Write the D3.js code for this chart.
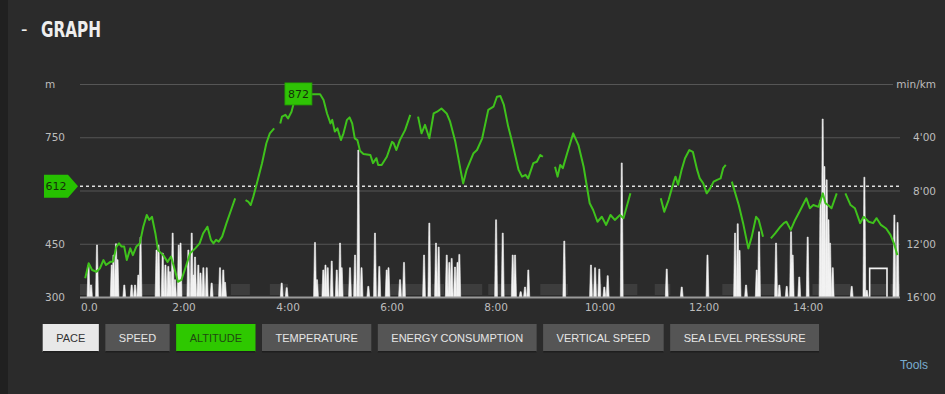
<!DOCTYPE html>
<html><head><meta charset="utf-8">
<script src="https://cdn.jsdelivr.net/npm/d3@7"></script>
<style>
html,body{margin:0;padding:0;background:#2b2b2b;overflow:hidden;}
svg{display:block;}
</style></head><body>
<svg id="c" width="945" height="394"></svg>
<script>
// ---------- DATA ----------
const altMinutes = [6,10,14,19,23,27,30,35,38,42,45,48,51,54,58,61,65,69,73,77,80,83,87,90,96,101,105,110,113,117,122,127,133,138,142,147,151,154,157,160,164,169,175,179,185,
191,194,197,200,204,210,215,219,224,227,
231,233,237,240,244,247,252,260,277,281,285,289,291,294,297,301,304,308,311,314,317,320,323,327,335,338,342,344,348,354,360,362,365,369,375,381,385,
390,394,398,403,408,412,417,423,427,433,439,442,446,454,458,464,471,477,481,485,489,494,498,506,510,514,517,523,527,531,534,540,
548,551,554,557,562,569,575,581,588,592,597,602,607,612,617,623,627,635,650,
670,674,679,685,687,690,694,698,703,707,712,715,719,723,727,731,735,739,742,745,748,
752,760,765,771,775,780,783,788,792,
797,802,808,812,815,820,825,830,835,838,842,846,852,857,860,863,867,873,878,
883,889,894,900,904,910,915,919,924,930,935,939,943];
const altMeters = [353,395,376,371,381,404,390,399,399,442,451,442,442,404,437,418,442,451,498,531,517,526,479,432,418,399,414,371,343,348,385,423,437,451,479,498,461,451,461,456,470,508,550,578,null,
573,569,559,583,620,677,733,761,775,null,
789,808,813,803,822,850,872,871,871,855,817,789,799,766,775,742,761,799,806,789,747,742,712,703,700,677,691,672,672,695,737,733,714,742,770,813,null,
808,761,785,747,817,822,831,817,794,737,658,620,658,705,714,747,827,836,864,866,841,780,742,658,639,644,634,677,681,700,695,null,
667,639,672,663,705,761,728,667,564,545,512,526,503,531,517,531,522,592,null,
578,540,573,625,639,616,658,691,714,709,658,634,620,592,606,625,630,634,663,672,null,
625,559,508,437,470,526,517,470,null,
465,479,498,508,512,489,517,540,564,578,550,559,554,592,564,559,550,592,null,
592,559,550,508,526,512,508,522,503,493,475,451,418];

// pace spikes (minutes into activity, pace in min/km)
const paceMinutes = [9.8,12.7,19.6,36.6,38.6,41.5,43.3,51.1,59.6,63.5,67.3,69.8,88.3,90.6,95.4,98.6,101.9,103.8,106.9,109.6,113.9,116,125,128.9,130.7,132.7,136.5,139,142.3,146.2,151.9,161.5,165.3,167.3,
232.7,238.5,271.1,273.4,280.7,283.2,285.8,290.4,296.2,300,301.9,311.5,317.3,321.1,324.8,332.6,340.3,345.3,353.8,355.9,369.2,373.8,396.9,403,410.7,413.8,423.1,426.1,428.8,432.6,435.5,437.6,
480,487.7,499.2,501.9,508.4,513.4,517.2,558.7,589.5,594.2,599.1,604.9,608.8,625,676.9,694.2,723.9,755.7,758.8,760.9,768.4,780.7,783.4,803,806.8,815.3,820.3,822.2,829.8,839.5,
854.3,856.8,858.8,861.4,863.5,865.3,868.4,890.3,904.9,907.7,939.5,943.2];
const paceValues = [13.6,15.1,12.09,13.6,12.85,12.0,13.2,15.1,15.1,15.1,14.35,11.5,12.47,12.1,12.7,13.6,13.7,14.1,11.2,14.7,12.1,11.95,12.47,11.2,14.35,13.0,13.6,14.2,13.8,13.8,14.95,13.8,13.97,14.9,
14.95,15.3,11.9,14.7,13.97,13.6,13.8,13.3,13.97,11.95,13.8,13.8,12.85,4.96,13.8,15.2,11.2,13.7,13.97,13.8,14.7,13.4,12.85,10.45,11.95,12.25,12.85,13.4,13.1,13.75,13.4,12.8,
10.2,11.2,12.85,12.85,15.6,15.25,13.97,11.8,13.6,13.8,13.9,15.25,14.4,5.93,13.9,15.25,12.85,11.2,10.5,12.5,15.1,13.97,11.1,11.95,15.1,15.2,11.1,12.85,14.5,11.5,
8.7,2.63,6.2,7.2,10.2,11.95,13.8,15.2,7.0,15.5,9.84,10.4];
const plateauStart = 911, plateauEnd = 931, plateauPace = 13.85;

// pause segments (minutes)
const segStart = [0,67,115,133,150,174,219,271,303,358,406,436,471,531,588,627,663,741,783,845,871,911,935];
const segEnd   = [15,90,130,144,166,196,240,284,321,396,420,464,504,563,602,643,681,758,803,856,889,931,946];

const xTickMinutes = [0,120,240,360,480,600,720,840];
const xTickLabels = ["0.0","2:00","4:00","6:00","8:00","10:00","12:00","14:00"];
const gridAlt = [450,600,750,900];
const leftTickValues = [300,450,750,900];
const leftTickLabels = ["300","450","750","m"];
const rightTickValues = [0,4,8,12,16];
const rightTickLabels = ["min/km","4'00","8'00","12'00","16'00"];
const maxAlt = 872, maxAltMinute = 252, avgAlt = 612;
const buttons = ["PACE","SPEED","ALTITUDE","TEMPERATURE","ENERGY CONSUMPTION","VERTICAL SPEED","SEA LEVEL PRESSURE"];
const activeButtons = {"PACE":"light","ALTITUDE":"green"};

// ---------- LAYOUT ----------
const svg = d3.select("#c");
const L = 80, R = 900, T = 84, B = 297;
const x = d3.scaleLinear().domain([0,946]).range([L,R]);
const yAlt = d3.scaleLinear().domain([300,900]).range([B,T]);
const yPace = d3.scaleLinear().domain([16,0]).range([B,T]);
const GREEN = "#3fc21c";

svg.append("rect").attr("x",0).attr("y",0).attr("width",945).attr("height",394).attr("fill","#2b2b2b");
svg.append("rect").attr("x",0).attr("y",0).attr("width",8).attr("height",394).attr("fill","#202020");

// title
svg.append("text").attr("x",21).attr("y",36).attr("fill","#eeeeee")
  .style("font-family","'DejaVu Sans Condensed','DejaVu Sans',sans-serif").style("font-size","20px").text("-");
svg.append("text").attr("x",41).attr("y",37).attr("fill","#eeeeee")
  .attr("textLength",60).attr("lengthAdjust","spacingAndGlyphs")
  .style("font-family","'DejaVu Sans Condensed','DejaVu Sans',sans-serif").style("font-size","21px").style("font-weight","bold").text("GRAPH");

// gridlines
svg.append("g").selectAll("line").data(gridAlt).join("line")
  .attr("x1",L).attr("x2",d=>d===900?893:R).attr("y1",d=>yAlt(d)+0.5).attr("y2",d=>yAlt(d)+0.5)
  .attr("stroke","#565656").attr("stroke-width",1);

// pause segments
svg.append("g").selectAll("rect").data(segStart.map((s,i)=>[s,segEnd[i]])).join("rect")
  .attr("x",d=>x(d[0])).attr("width",d=>x(d[1])-x(d[0]))
  .attr("y",284).attr("height",11).attr("fill","#3d3d3d");

// pace spikes
const spikeLine = d3.line();
svg.append("g").selectAll("path").data(paceMinutes.map((m,i)=>[m,paceValues[i]])).join("path")
  .attr("d",d=>{const cx=x(d[0]), yp=yPace(d[1]), y0=yPace(16);
     return spikeLine([[cx-1.4,y0],[cx-0.5,yp],[cx+0.5,yp],[cx+1.4,y0]])+"Z";})
  .attr("fill","#f2f2f2").attr("stroke","#f2f2f2").attr("stroke-width",0.6);
svg.append("path")
  .attr("d",spikeLine([[x(plateauStart),yPace(16)],[x(plateauStart),yPace(plateauPace)],[x(plateauEnd),yPace(plateauPace)],[x(plateauEnd),yPace(16)]]))
  .attr("fill","none").attr("stroke","#f2f2f2").attr("stroke-width",1.6);

// baseline
svg.append("line").attr("x1",L).attr("x2",R).attr("y1",B+0.5).attr("y2",B+0.5).attr("stroke","#9a9a9a").attr("stroke-width",2);

// average dashed line
svg.append("line").attr("x1",L).attr("x2",R).attr("y1",yAlt(avgAlt)).attr("y2",yAlt(avgAlt))
  .attr("stroke","#e0e0e0").attr("stroke-width",1.5).attr("stroke-dasharray","3,3");

// altitude line
const altData = altMinutes.map((m,i)=>[m,altMeters[i]]);
svg.append("path").datum(altData)
  .attr("d",d3.line().defined(d=>d[1]!==null).x(d=>x(d[0])).y(d=>yAlt(d[1])))
  .attr("fill","none").attr("stroke",GREEN).attr("stroke-width",2).attr("stroke-linejoin","round");

// axis text styles
const axFont = "'DejaVu Sans',Verdana,sans-serif";
svg.append("g").selectAll("text").data(leftTickValues).join("text")
  .attr("x",45).attr("y",d=>yAlt(d)+4).attr("fill","#bdbdbd")
  .style("font-family",axFont).style("font-size","10.5px").text((d,i)=>leftTickLabels[i]);
svg.append("g").selectAll("text").data(rightTickValues).join("text")
  .attr("x",936).attr("y",d=>yPace(d)+4).attr("text-anchor","end").attr("fill","#bdbdbd")
  .style("font-family",axFont).style("font-size","10.5px").text((d,i)=>rightTickLabels[i]);
svg.append("g").selectAll("text").data(xTickMinutes).join("text")
  .attr("x",d=>d===0?x(d)+1:x(d)).attr("y",311).attr("text-anchor",d=>d===0?"start":"middle").attr("fill","#bdbdbd")
  .style("font-family",axFont).style("font-size","10.5px").text((d,i)=>xTickLabels[i]);

// avg marker (612)
const ya = yAlt(avgAlt);
svg.append("path").attr("d",`M44,${ya-11.5}H68L78,${ya}L68,${ya+11.5}H44Z`).attr("fill","#26c000");
svg.append("text").attr("x",56).attr("y",ya+4).attr("text-anchor","middle").attr("fill","#15300a")
  .style("font-family",axFont).style("font-size","11px").text(avgAlt);

// max marker (872)
const mx = x(maxAltMinute), my = yAlt(maxAlt);
svg.append("rect").attr("x",mx-13.5).attr("y",my-11).attr("width",27).attr("height",22).attr("fill","#2fc205").attr("stroke","#22a000").attr("stroke-width",0.8);
svg.append("text").attr("x",mx).attr("y",my+4).attr("text-anchor","middle").attr("fill","#15300a")
  .style("font-family",axFont).style("font-size","11px").text(maxAlt);

// buttons
const btnFont = "'Liberation Sans',Arial,sans-serif";
let bx = 42.7;
const bg = svg.append("g");
buttons.forEach(b=>{
  const g = bg.append("g");
  const t = g.append("text").attr("y",341.5).attr("text-anchor","middle")
    .style("font-family",btnFont).style("font-size","11px").text(b);
  const w = t.node().getComputedTextLength()+27;
  const kind = activeButtons[b];
  g.insert("rect","text").attr("x",bx).attr("y",324).attr("width",w).attr("height",28)
    .attr("fill",kind==="light"?"#e8e8e8":kind==="green"?"#2ec800":"#555555");
  g.insert("rect","text").attr("x",bx).attr("y",351).attr("width",w).attr("height",1.5).attr("fill","#1e1e1e");
  t.attr("x",bx+w/2).attr("fill",kind==="light"?"#333333":kind==="green"?"#1f4a10":"#e6e6e6");
  bx += w + 6.5;
});

svg.append("text").attr("x",928).attr("y",369).attr("text-anchor","end").attr("fill","#79acd0")
  .style("font-family",btnFont).style("font-size","12px").text("Tools");
</script>
</body></html>
